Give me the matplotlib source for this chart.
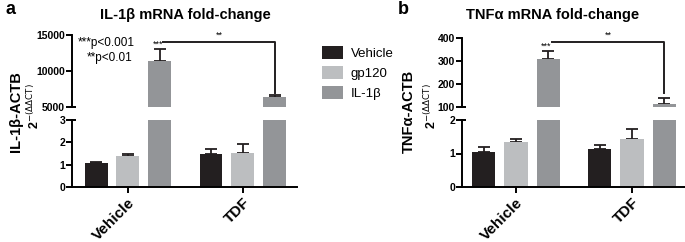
import matplotlib.pyplot as plt
from matplotlib.patches import Patch

plt.rcParams['font.family'] = ['Liberation Sans', 'DejaVu Sans']

groups = ["Vehicle", "TDF"]
series = ["Vehicle", "gp120", "IL-1β"]
colors = ["#231f20", "#bcbec0", "#939598"]

# IL-1b panel, rows = treatment series, cols = groups
il1b_mean = [[1.06, 1.47], [1.37, 1.53], [11400, 6450]]
il1b_err = [[0.08, 0.24], [0.10, 0.38], [1700, 250]]
# TNFa panel
tnf_mean = [[1.03, 1.12], [1.33, 1.44], [308, 112]]
tnf_err = [[0.15, 0.12], [0.10, 0.28], [37, 28]]

W, H = 685, 242
fig = plt.figure(figsize=(W / 100, H / 100), dpi=100)


def box(x0, y0, x1, y1):
    return [x0 / W, 1 - y1 / H, (x1 - x0) / W, (y1 - y0) / H]


def panel(xl, xr, top_px, low_max, top_lim, top_ticks, mean, err,
          brk_y, brk_drop, left_lim, right_lim):
    axb = fig.add_axes(box(xl, 120, xr, 187))
    axt = fig.add_axes(box(xl, top_px, xr, 107))
    off = [-0.278, 0, 0.278]
    for ax in (axb, axt):
        for i in range(3):
            xs = [g + off[i] for g in range(len(groups))]
            ax.bar(xs, mean[i], width=0.2, color=colors[i], zorder=2)
            ax.errorbar(xs, mean[i], yerr=[[0] * len(xs), err[i]], fmt='none',
                        ecolor='#231f20', elinewidth=1.3, capsize=4,
                        capthick=1.3, zorder=1)
        ax.set_xlim(left_lim, right_lim)
        for s in ('top', 'right'):
            ax.spines[s].set_visible(False)
        ax.spines['left'].set_linewidth(1.4)
        ax.tick_params(axis='y', width=1.4, length=4, labelsize=7.5, pad=1)
        ax.tick_params(axis='y', which='minor', direction='in', width=1.4,
                       length=3)
        ax.yaxis.remove_overlapping_locs = False
    axb.set_ylim(0, low_max)
    axb.set_yticks(range(low_max + 1))
    axb.set_yticks([low_max], minor=True)
    axb.set_yticklabels([str(v) for v in range(low_max + 1)], fontweight='bold')
    axb.spines['bottom'].set_linewidth(1.4)
    axb.set_xticks(range(len(groups)))
    axb.set_xticklabels(groups, rotation=45, ha='right', rotation_mode='anchor',
                        fontsize=11, fontweight='bold')
    axb.tick_params(axis='x', width=1.4, length=4, pad=2)
    axt.set_ylim(*top_lim)
    axt.set_yticks(top_ticks)
    axt.set_yticks([top_lim[0]], minor=True)
    axt.set_yticklabels([str(v) for v in top_ticks], fontweight='bold')
    axt.spines['bottom'].set_visible(False)
    axt.set_xticks([])
    # significance bracket
    x1 = 0 + off[2] + 0.03
    x2 = 1 + off[2]
    axt.plot([x1, x2, x2], [brk_y, brk_y, brk_drop], color='#231f20', lw=1.4,
             clip_on=False)
    axt.text(off[2] - 0.02, mean[2][0] + err[2][0], "***", ha='center',
             va='bottom', fontsize=6.5)
    span = top_lim[1] - top_lim[0]
    axt.text((x1 + x2) / 2, brk_y + span * 0.03, "**", ha='center', va='bottom',
             fontsize=6.5, clip_on=False)
    return axb, axt


panel(72, 297, 35, 3, (5000, 15000), [5000, 10000, 15000], il1b_mean, il1b_err,
      14030, 6950, -0.487, 1.47)
panel(462, 685, 38, 2, (100, 400), [100, 200, 300, 400], tnf_mean, tnf_err,
      383, 160, -0.466, 1.457)

fig.text(5 / W, 1 - 10 / H, "a", fontsize=13, fontweight='bold', va='center')
fig.text(398 / W, 1 - 10 / H, "b", fontsize=13, fontweight='bold', va='center')
fig.text(185 / W, 1 - 15 / H, "IL-1β mRNA fold-change", fontsize=10.5,
         fontweight='bold', ha='center', va='center')
fig.text(553 / W, 1 - 15 / H, "TNFα mRNA fold-change", fontsize=10.5,
         fontweight='bold', ha='center', va='center')

ylab2 = r"2$^{\mathrm{-(\Delta\Delta CT)}}$"
fig.text(16 / W, 1 - 112 / H, "IL-1β-ACTB", fontsize=10.5, fontweight='bold',
         rotation=90, ha='center', va='center')
fig.text(34 / W, 1 - 106 / H, ylab2, fontsize=9,
         fontweight='bold', rotation=90, ha='center', va='center')
fig.text(409 / W, 1 - 111 / H, "TNFα-ACTB", fontsize=10.5, fontweight='bold',
         rotation=90, ha='center', va='center')
fig.text(431 / W, 1 - 106 / H, ylab2, fontsize=9,
         fontweight='bold', rotation=90, ha='center', va='center')

fig.text(78 / W, 1 - 43 / H, "***p<0.001", fontsize=8.5, va='center')
fig.text(87 / W, 1 - 58 / H, "**p<0.01", fontsize=8.5, va='center')

handles = [Patch(facecolor=c, edgecolor='none') for c in colors]
fig.legend(handles, series, loc='upper left', bbox_to_anchor=(315 / W, 1 - 39 / H),
           frameon=False, fontsize=9.5, handlelength=1.6, handleheight=1.2,
           labelspacing=0.45, handletextpad=0.6, borderpad=0)

fig.savefig("out.png", dpi=100)
